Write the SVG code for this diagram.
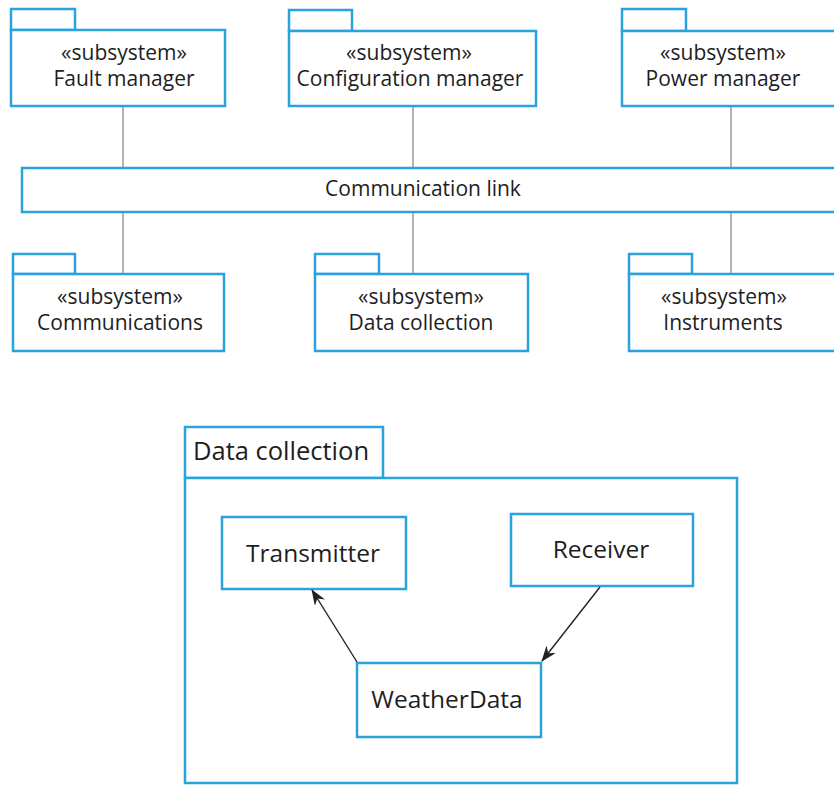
<svg xmlns="http://www.w3.org/2000/svg" width="834" height="785" viewBox="0 0 834 785">
  <style>
    .pkg { fill: #ffffff; stroke: #2aa3dd; stroke-width: 2.5; }
    .link { stroke: #8a8a8a; stroke-width: 1.3; fill: none; }
    .dep { stroke: #222222; stroke-width: 1.4; fill: none; }
    text { font-family: "Open Sans", "Noto Sans", sans-serif; fill: #1e1e1e; text-anchor: middle; }
    .sub { font-size: 21px; }
    .cls { font-size: 24.5px; }
  </style>
  <defs>
    <marker id="arrow" viewBox="0 0 16 12" refX="15" refY="6" markerWidth="16" markerHeight="12" markerUnits="userSpaceOnUse" orient="auto">
      <path d="M0,0 L16,6 L0,12 L5,6 Z" fill="#222222"/>
    </marker>
  </defs>

  <g id="fault-manager">
    <rect class="pkg" x="11" y="9" width="64" height="21"/>
    <rect class="pkg" x="11" y="30" width="214" height="76"/>
    <text class="sub" x="124" y="60">«subsystem»</text>
    <text class="sub" x="124" y="86">Fault manager</text>
  </g>

  <g id="configuration-manager">
    <rect class="pkg" x="289" y="10" width="63" height="21"/>
    <rect class="pkg" x="289" y="31" width="247" height="75"/>
    <text class="sub" x="409" y="60">«subsystem»</text>
    <text class="sub" x="410" y="86">Configuration manager</text>
  </g>

  <g id="power-manager">
    <rect class="pkg" x="622" y="9" width="64" height="22"/>
    <rect class="pkg" x="622" y="31" width="220" height="75"/>
    <text class="sub" x="723" y="60">«subsystem»</text>
    <text class="sub" x="723" y="86">Power manager</text>
  </g>

  <g id="communication-link">
    <rect class="pkg" x="22" y="168" width="820" height="44"/>
    <text class="sub" x="423" y="196">Communication link</text>
  </g>

  <g id="communications">
    <rect class="pkg" x="13" y="254" width="62" height="20"/>
    <rect class="pkg" x="13" y="274" width="211" height="77"/>
    <text class="sub" x="120" y="304">«subsystem»</text>
    <text class="sub" x="120" y="330">Communications</text>
  </g>

  <g id="data-collection">
    <rect class="pkg" x="315" y="254" width="64" height="20"/>
    <rect class="pkg" x="315" y="274" width="213" height="77"/>
    <text class="sub" x="421" y="304">«subsystem»</text>
    <text class="sub" x="421" y="330">Data collection</text>
  </g>

  <g id="instruments">
    <rect class="pkg" x="629" y="254" width="63" height="20"/>
    <rect class="pkg" x="629" y="274" width="213" height="77"/>
    <text class="sub" x="724" y="304">«subsystem»</text>
    <text class="sub" x="723" y="330">Instruments</text>
  </g>

  <g id="data-collection-package">
    <rect class="pkg" x="185" y="427" width="198" height="51"/>
    <rect class="pkg" x="185" y="478" width="552" height="305"/>
    <text class="cls" x="193" y="460" style="text-anchor: start; font-size: 25.5px;">Data collection</text>
  </g>

  <g id="transmitter">
    <rect class="pkg" x="222" y="517" width="184" height="72"/>
    <text class="cls" x="313" y="562">Transmitter</text>
  </g>

  <g id="receiver">
    <rect class="pkg" x="511" y="514" width="182" height="72"/>
    <text class="cls" x="601" y="558">Receiver</text>
  </g>

  <g id="weather-data">
    <rect class="pkg" x="357" y="663" width="184" height="74"/>
    <text class="cls" x="447" y="708">WeatherData</text>
  </g>

  <!-- connectors: links to the communication link, and dependency arrows -->
  <g id="connectors">
    <line class="link" x1="123" y1="107" x2="123" y2="167"/>
    <line class="link" x1="413" y1="107" x2="413" y2="167"/>
    <line class="link" x1="731" y1="107" x2="731" y2="167"/>
    <line class="link" x1="123" y1="213" x2="123" y2="273"/>
    <line class="link" x1="413" y1="213" x2="413" y2="273"/>
    <line class="link" x1="731" y1="213" x2="731" y2="273"/>
    <line class="dep" x1="357" y1="662" x2="312" y2="590" marker-end="url(#arrow)"/>
    <line class="dep" x1="600" y1="587" x2="542" y2="661" marker-end="url(#arrow)"/>
  </g>
</svg>
